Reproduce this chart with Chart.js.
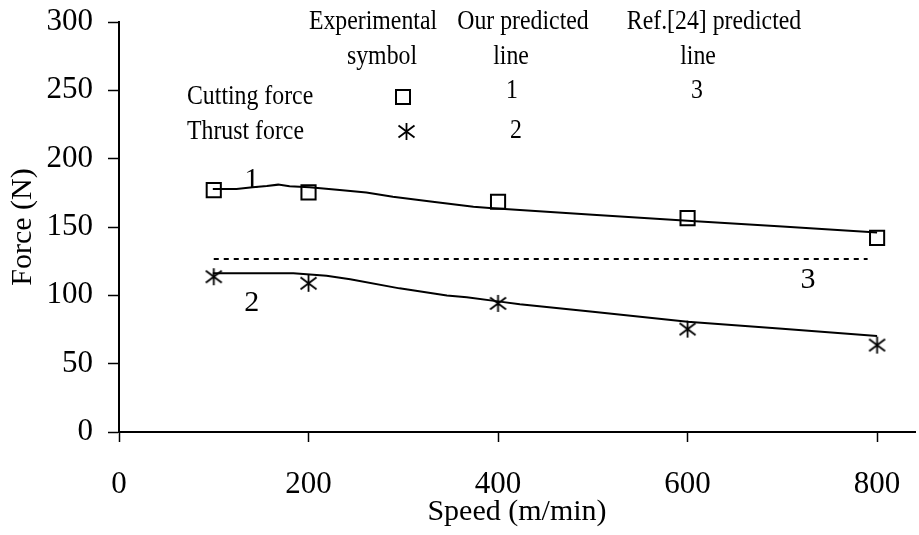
<!DOCTYPE html>
<html><head><meta charset="utf-8">
<script src="https://cdn.jsdelivr.net/npm/chart.js@4"></script>
<style>html,body{margin:0;padding:0;background:#fff;overflow:hidden;}</style>
</head><body>
<canvas id="c" width="919" height="535"></canvas>
<script>
// ---- data ----
const expSpeed = [100, 200, 400, 600, 800];
const cuttingExp = [177, 175.3, 168.5, 156.5, 142];
const thrustExp = [113.6, 108.8, 94.1, 75.3, 63.6];
const line1Speed = [99, 124, 141, 156, 168, 180, 201, 233, 261, 289, 331, 374, 391, 423, 500, 600, 700, 800];
const line1Force = [177.8, 177.8, 179, 180, 181, 179.8, 179, 177, 175.3, 172.2, 168.5, 164.8, 163.9, 162.4, 159, 154.6, 150.3, 146];
const line2Speed = [99, 184, 219, 244, 296, 346, 367, 402, 423, 500, 600, 700, 800];
const line2Force = [116.1, 116.1, 114.4, 111.7, 105.1, 99.8, 98.6, 95.4, 93.4, 88, 80.7, 75.5, 70.2];
const line3Speed = [100, 790];
const line3Force = [126.5, 126.5];
const xTicks = [0, 200, 400, 600, 800];
const yTicks = [0, 50, 100, 150, 200, 250, 300];
const lineLabels = ['1', '2', '3'];
const lineLabelSpeed = [140, 140, 727];
const lineLabelForce = [186, 96, 113];

const pts = (xs, ys) => xs.map((v, i) => ({x: v, y: ys[i]}));
const FONT = '"Liberation Serif", "Times New Roman", serif';

function makeAsterisk() {
  const s = 19, c = document.createElement('canvas');
  c.width = s; c.height = s;
  const g = c.getContext('2d');
  g.strokeStyle = '#000'; g.lineWidth = 1.8;
  g.beginPath();
  g.moveTo(s/2, 1); g.lineTo(s/2, s-1);
  g.moveTo(1.5, 3.5); g.lineTo(s-1.5, s-3.5);
  g.moveTo(1.5, s-3.5); g.lineTo(s-1.5, 3.5);
  g.stroke();
  return c;
}
const asterisk = makeAsterisk();

function condText(ctx, t, x, y, align) {
  const k = 0.85;
  ctx.save();
  ctx.translate(x, y);
  ctx.scale(k, 1);
  ctx.textAlign = align;
  ctx.fillText(t, 0, 0);
  ctx.restore();
}

const annot = {
  id: 'annot',
  afterDatasetsDraw(chart) {
    const {ctx, scales: {x, y}} = chart;
    ctx.save();
    ctx.fillStyle = '#000';
    ctx.textBaseline = 'alphabetic';
    ctx.textAlign = 'center';
    ctx.font = '30px ' + FONT;
    lineLabels.forEach((t, i) => {
      ctx.fillText(t, x.getPixelForValue(lineLabelSpeed[i]), y.getPixelForValue(lineLabelForce[i]) + 10);
    });
    // legend table
    ctx.font = '28px ' + FONT;
    condText(ctx, 'Experimental', 373, 29, 'center');
    condText(ctx, 'Our predicted', 523, 29, 'center');
    condText(ctx, 'Ref.[24] predicted', 714, 29, 'center');
    condText(ctx, 'symbol', 382, 64, 'center');
    condText(ctx, 'line', 511, 64, 'center');
    condText(ctx, 'line', 698, 64, 'center');
    condText(ctx, '1', 512, 98, 'center');
    condText(ctx, '3', 697, 98, 'center');
    condText(ctx, '2', 516, 138, 'center');
    condText(ctx, 'Cutting force', 187, 104, 'left');
    condText(ctx, 'Thrust force', 187, 139, 'left');
    ctx.strokeStyle = '#000'; ctx.lineWidth = 2;
    ctx.strokeRect(396, 90, 14, 14);
    ctx.drawImage(asterisk, 397, 122);
    ctx.restore();
  }
};

new Chart(document.getElementById('c'), {
  type: 'scatter',
  data: {
    datasets: [
      {data: pts(line1Speed, line1Force), showLine: true, borderColor: '#000', borderWidth: 2, pointRadius: 0, tension: 0},
      {data: pts(line2Speed, line2Force), showLine: true, borderColor: '#000', borderWidth: 2, pointRadius: 0, tension: 0},
      {data: pts(line3Speed, line3Force), showLine: true, borderColor: '#000', borderWidth: 2, borderDash: [5, 5], pointRadius: 0},
      {data: pts(expSpeed, cuttingExp), pointStyle: 'rect', pointRadius: 10, pointBorderWidth: 2, borderColor: '#000', backgroundColor: 'rgba(0,0,0,0)'},
      {data: pts(expSpeed, thrustExp), pointStyle: asterisk, pointRadius: 10, borderColor: '#000'}
    ]
  },
  options: {
    responsive: false,
    animation: false,
    events: [],
    layout: {autoPadding: false, padding: {left: 0, right: 4, top: 22, bottom: 0}},
    plugins: {legend: {display: false}, tooltip: {enabled: false}},
    scales: {
      x: {
        type: 'linear', min: 0, max: 840,
        afterBuildTicks: s => { s.ticks = xTicks.map(v => ({value: v})); },
        afterFit: s => { s.height = 103; s.paddingLeft = 0; s.paddingRight = 0; },
        grid: {drawOnChartArea: false, drawTicks: true, tickLength: 10, tickColor: '#000', tickWidth: 1.5},
        border: {display: true, color: '#000', width: 2},
        ticks: {color: '#000', font: {family: FONT, size: 31}, padding: 24, maxRotation: 0},
        title: {display: true, text: 'Speed (m/min)', color: '#000', font: {family: FONT, size: 30}, padding: {top: 0, bottom: 5}}
      },
      y: {
        type: 'linear', min: 0, max: 300,
        afterBuildTicks: s => { s.ticks = yTicks.map(v => ({value: v})); },
        afterFit: s => { s.width = 119; s.paddingTop = 0; s.paddingBottom = 0; },
        grid: {drawOnChartArea: false, drawTicks: true, tickLength: 11, tickColor: '#000', tickWidth: 1.5},
        border: {display: true, color: '#000', width: 2},
        ticks: {color: '#000', font: {family: FONT, size: 31}, padding: 15},
        title: {display: true, text: 'Force (N)', color: '#000', font: {family: FONT, size: 30}, padding: {top: 5, bottom: 0}}
      }
    }
  },
  plugins: [annot]
});
</script>
</body></html>
